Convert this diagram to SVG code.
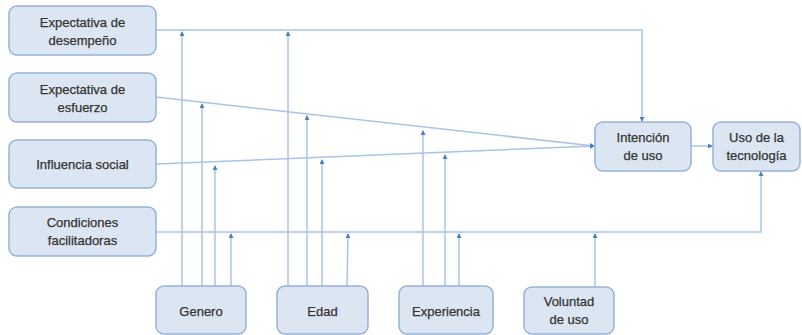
<svg xmlns="http://www.w3.org/2000/svg" width="802" height="335" viewBox="0 0 802 335">
  <style>
    .box { fill: #dce6f2; stroke: #95b3d7; stroke-width: 1.5; }
    .lbl { font-family: "Liberation Sans", Arial, sans-serif; font-size: 13px; fill: #333333; text-anchor: middle; stroke: #333333; stroke-width: 0.25; }
    .ln { fill: none; stroke: #a7c4e8; stroke-width: 1.5; }
    .arr { fill: none; stroke: #a7c4e8; stroke-width: 1.5; marker-end: url(#ah); }
  </style>
  <defs>
    <marker id="ah" viewBox="0 0 10 10" refX="8" refY="5" markerWidth="5" markerHeight="5" orient="auto" markerUnits="userSpaceOnUse">
      <path d="M0,0 L10,5 L0,10 z" fill="#4f81bd"/>
    </marker>
  </defs>
  <rect width="802" height="335" fill="#ffffff"/>

  <g id="connectors">
    <!-- main inputs -->
    <polyline class="arr" points="156,30 642,30 642,121"/>
    <line class="arr" x1="156" y1="97" x2="594" y2="146"/>
    <line class="arr" x1="156" y1="164" x2="594" y2="146"/>
    <polyline class="arr" points="156,232 761,232 761,172"/>
    <line class="arr" x1="691" y1="146" x2="712" y2="146"/>
    <!-- Genero moderators -->
    <line class="arr" x1="182" y1="286" x2="182" y2="32"/>
    <line class="arr" x1="202" y1="286" x2="202" y2="104"/>
    <line class="arr" x1="215" y1="286" x2="215" y2="166"/>
    <line class="arr" x1="231" y1="286" x2="231" y2="234"/>
    <!-- Edad moderators -->
    <line class="arr" x1="288" y1="286" x2="288" y2="32"/>
    <line class="arr" x1="307" y1="286" x2="307" y2="116"/>
    <line class="arr" x1="322" y1="286" x2="322" y2="160"/>
    <line class="arr" x1="347" y1="286" x2="348" y2="234"/>
    <!-- Experiencia moderators -->
    <line class="arr" x1="423" y1="286" x2="423" y2="131"/>
    <line class="arr" x1="445" y1="286" x2="445" y2="155"/>
    <line class="arr" x1="459" y1="286" x2="459" y2="234"/>
    <!-- Voluntad de uso moderator -->
    <line class="arr" x1="595" y1="287" x2="595" y2="234"/>
  </g>

  <g id="expectativa-desempeno">
    <rect class="box" x="9" y="6" width="147" height="49" rx="8"/>
    <text class="lbl" x="82.5" y="27">Expectativa de</text>
    <text class="lbl" x="82.5" y="45">desempeño</text>
  </g>
  <g id="expectativa-esfuerzo">
    <rect class="box" x="9" y="73" width="147" height="49" rx="8"/>
    <text class="lbl" x="82.5" y="94">Expectativa de</text>
    <text class="lbl" x="82.5" y="112">esfuerzo</text>
  </g>
  <g id="influencia-social">
    <rect class="box" x="9" y="140" width="147" height="48" rx="8"/>
    <text class="lbl" x="82.5" y="168.5">Influencia social</text>
  </g>
  <g id="condiciones-facilitadoras">
    <rect class="box" x="9" y="207" width="147" height="49" rx="8"/>
    <text class="lbl" x="82.5" y="227">Condiciones</text>
    <text class="lbl" x="82.5" y="245">facilitadoras</text>
  </g>
  <g id="intencion-uso">
    <rect class="box" x="595" y="122" width="96" height="49" rx="8"/>
    <text class="lbl" x="643" y="142">Intención</text>
    <text class="lbl" x="643" y="160">de uso</text>
  </g>
  <g id="uso-tecnologia">
    <rect class="box" x="713" y="122" width="87" height="49" rx="8"/>
    <text class="lbl" x="756.5" y="142">Uso de la</text>
    <text class="lbl" x="756.5" y="160">tecnología</text>
  </g>
  <g id="genero">
    <rect class="box" x="156" y="286" width="90" height="48" rx="8"/>
    <text class="lbl" x="201" y="316">Genero</text>
  </g>
  <g id="edad">
    <rect class="box" x="277" y="286" width="91" height="48" rx="8"/>
    <text class="lbl" x="322.5" y="316">Edad</text>
  </g>
  <g id="experiencia">
    <rect class="box" x="399" y="286" width="94" height="48" rx="8"/>
    <text class="lbl" x="446" y="316">Experiencia</text>
  </g>
  <g id="voluntad-uso">
    <rect class="box" x="524" y="287" width="90" height="47" rx="8"/>
    <text class="lbl" x="569" y="306">Voluntad</text>
    <text class="lbl" x="569" y="324">de uso</text>
  </g>
</svg>
